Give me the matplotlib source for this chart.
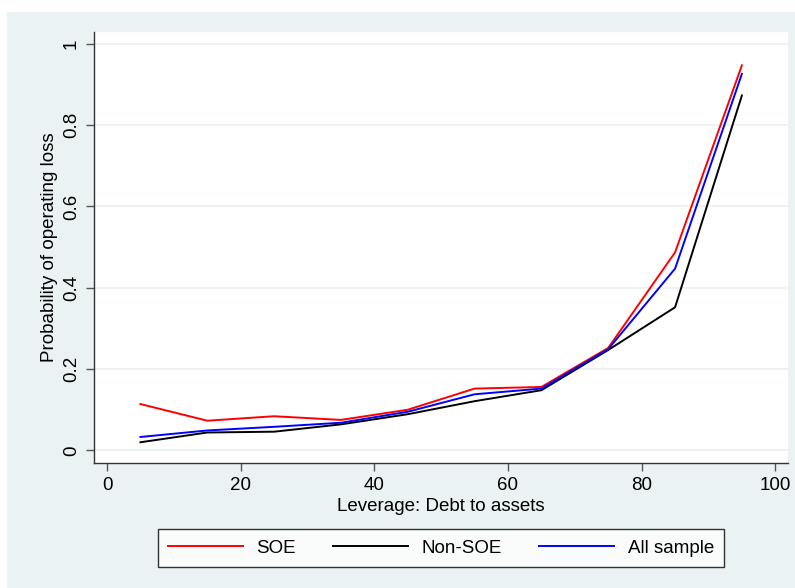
import numpy as np
import matplotlib
matplotlib.use("Agg")
import matplotlib.pyplot as plt
from matplotlib.patches import Rectangle

plt.rcParams['font.family'] = ['Liberation Sans', 'DejaVu Sans']

leverage = [5, 15, 25, 35, 45, 55, 65, 75, 85, 95]
soe = [0.114, 0.073, 0.084, 0.075, 0.100, 0.152, 0.156, 0.252, 0.487, 0.947]
non_soe = [0.020, 0.044, 0.046, 0.064, 0.089, 0.121, 0.148, 0.247, 0.352, 0.873]
all_sample = [0.033, 0.049, 0.058, 0.068, 0.095, 0.138, 0.152, 0.249, 0.447, 0.926]
xticks = [0, 20, 40, 60, 80, 100]
yticks = [0, 0.2, 0.4, 0.6, 0.8, 1]

bg = '#EAF2F3'
fs = 13.5

fig = plt.figure(figsize=(7.95, 5.88), dpi=100)
# stata style outer panel
fig.patches.append(Rectangle((7/795, 0), 1, 1 - 12/588, transform=fig.transFigure,
                             facecolor=bg, edgecolor='none', zorder=-10))

ax = fig.add_axes([94/795, 1 - 463/588, 694/795, 431/588])
ax.set_facecolor('white')

ax.plot(leverage, soe, color='#FF0000', lw=1.4, label='SOE')
ax.plot(leverage, non_soe, color='black', lw=1.4, label='Non-SOE')
ax.plot(leverage, all_sample, color='#0000FF', lw=1.4, label='All sample')

ax.set_xlim(-1.95, 101.9)
ax.set_ylim(-0.031, 1.029)
ax.set_xticks(xticks)
ax.set_yticks(yticks)
ax.set_yticklabels(['%g' % v for v in yticks], rotation=90, va='center')
ax.grid(axis='y', color=bg, lw=1.3)
ax.set_axisbelow(True)

for s in ['top', 'right']:
    ax.spines[s].set_visible(False)
for s in ['left', 'bottom']:
    ax.spines[s].set_color('#333333')
    ax.spines[s].set_linewidth(1.0)
ax.tick_params(labelsize=fs, length=6, color='#555555', width=1.0, pad=4)

ax.set_xlabel('Leverage: Debt to assets', fontsize=fs, labelpad=3)
ax.set_ylabel('Probability of operating loss', fontsize=fs, labelpad=4)

leg = fig.legend(loc='center', bbox_to_anchor=((157 + 725) / 2 / 795, 1 - 548 / 588),
                 ncol=3, fontsize=fs, frameon=True, fancybox=False,
                 handlelength=4.0, handletextpad=0.7, columnspacing=2.0,
                 borderpad=0.55, borderaxespad=0)
leg.get_frame().set_edgecolor('black')
leg.get_frame().set_linewidth(1.0)

fig.savefig('out.png', dpi=100, facecolor='white')
